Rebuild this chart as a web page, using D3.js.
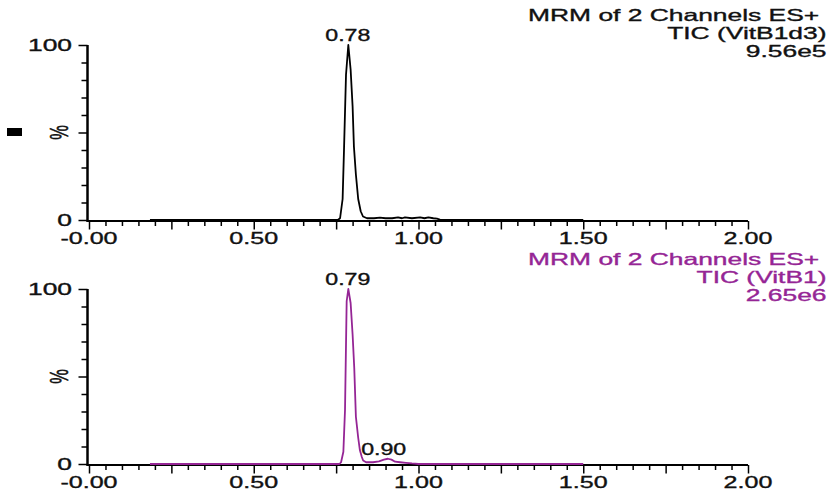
<!DOCTYPE html>
<html lang="en">
<head>
<meta charset="UTF-8">
<title>MRM TIC chromatograms</title>
<script src="https://d3js.org/d3.v7.min.js"></script>
<style>
  body { margin: 0; background: #fff; }
  svg text { font-family: "Liberation Sans", Arial, sans-serif; stroke-width: 0.35px; }
  .trace { fill: none; stroke-width: 1.8px; stroke-linejoin: round; }
  .axis path, .axis line { stroke: #000; }
</style>
</head>
<body>
<svg width="833" height="493"></svg>
<script>
// retention time (min) and relative intensity (%)
const timeTop = [0.185, 0.755, 0.762, 0.7697, 0.7739, 0.780, 0.787, 0.794, 0.800, 0.804, 0.810, 0.817, 0.8246, 0.8316, 0.8437,
  0.865, 0.883, 0.90, 0.92, 0.938, 0.95, 0.959, 0.98, 1.005, 1.018, 1.03, 1.045, 1.056, 1.065, 1.5];
const intTop = [0, 0, 1, 12, 40, 83, 100, 86, 65, 42, 26, 12, 5, 2, 1,
  1, 1.4, 1, 1, 1.5, 1, 1.5, 1, 1.5, 1, 1.5, 1, 0.8, 0.2, 0];

const timeBot = [0.185, 0.760, 0.765, 0.772, 0.777, 0.782, 0.787, 0.794, 0.800, 0.805, 0.810, 0.817, 0.822, 0.828, 0.832,
  0.841, 0.862, 0.880, 0.895, 0.907, 0.918, 0.929, 0.944, 0.962, 0.98, 1.0, 1.5];
const intBot = [0, 0, 1, 7, 31, 93, 100, 92, 74, 55, 27, 15, 8, 4, 2,
  1, 1, 1.5, 2.5, 3, 2.5, 1.3, 1, 0.7, 0.3, 0, 0];

const peaksTop = [{ t: 0.787, v: 100, label: "0.78" }];
const peaksBot = [{ t: 0.787, v: 100, label: "0.79" }, { t: 0.902, v: 3, label: "0.90" }];

const titleTop = ["MRM of 2 Channels ES+ ", "TIC (VitB1d3)", "9.56e5"];
const titleBot = ["MRM of 2 Channels ES+ ", "TIC (VitB1)", "2.65e6"];

const xTicks = d3.range(0, 2.0001, 0.05).map(v => +v.toFixed(2));
const xTickLabels = { 0: "-0.00", 0.5: "0.50", 1: "1.00", 1.5: "1.50", 2: "2.00" };
const yTicks = d3.range(0, 101, 10);
const yTickLabels = { 0: "0", 100: "100" };

const svg = d3.select("svg");
const purple = "#952595";
const SX = 1.55; // the picture's text is stretched sideways

const x = d3.scaleLinear([0, 2], [89, 748]);

function stretched(sel, px, py, sx) {
  return sel.attr("transform", `translate(${px},${py}) scale(${sx || SX},1)`);
}

function panel(times, ints, peaks, title, yTop, color, textColor) {
  const y = d3.scaleLinear([0, 100], [yTop + 175, yTop]);
  const g = svg.append("g");

  // y axis
  const ya = g.append("g").attr("class", "axis")
    .attr("transform", `translate(87.5,0)`)
    .call(d3.axisLeft(y).tickValues(yTicks).tickSize(6).tickFormat(""));
  ya.select(".domain").attr("stroke-width", 2.5).attr("d", `M0,${y(100)}V${y(0) + 2}`);
  ya.selectAll(".tick line").attr("stroke-width", 1.5)
    .attr("x2", d => d % 50 === 0 ? -9 : -6);
  yTicks.filter(d => yTickLabels[d] !== undefined).forEach(d => {
    stretched(g.append("text"), 72, y(d) + 5.5, 1.6)
      .attr("text-anchor", "end").attr("font-size", 16.5)
      .attr("fill", "#111").attr("stroke", "#111")
      .text(yTickLabels[d]);
  });
  g.append("text")
    .attr("transform", `translate(${68},${y(50)}) scale(1.6,1) rotate(-90)`)
    .attr("text-anchor", "middle").attr("font-size", 16.5)
    .attr("fill", "#111").attr("stroke", "#111")
    .text("%");

  // x axis
  const xa = g.append("g").attr("class", "axis")
    .attr("transform", `translate(0,${y(0) + 1})`)
    .call(d3.axisBottom(x).tickValues(xTicks).tickSize(5).tickFormat(""));
  xa.select(".domain").attr("stroke-width", 2.2).attr("d", `M${x(0) - 1.5},0H${x(2)}`);
  xa.selectAll(".tick line").attr("stroke-width", 1.5)
    .attr("y2", d => Math.abs(d / 0.25 - Math.round(d / 0.25)) < 1e-6 ? 8.5 : 5);
  Object.keys(xTickLabels).forEach(k => {
    stretched(g.append("text"), x(+k), y(0) + 24, 1.52)
      .attr("text-anchor", "middle").attr("font-size", 16.5)
      .attr("fill", "#111").attr("stroke", "#111")
      .text(xTickLabels[k]);
  });

  // trace
  const line = d3.line().x((d, i) => x(times[i])).y(d => y(d));
  g.append("path").attr("class", "trace")
    .attr("stroke", color).attr("d", line(ints));

  // peak labels
  peaks.forEach(p => {
    stretched(g.append("text"), x(p.t) - (p.v < 50 ? 2.5 : 0.5), y(p.v) - 4, 1.45)
      .attr("text-anchor", "middle").attr("font-size", 16)
      .attr("fill", "#111").attr("stroke", "#111")
      .text(p.label);
  });

  // header block, right aligned
  title.forEach((t, i) => {
    stretched(g.append("text"), 826.5, yTop - 24.5 + i * 18, 1.6)
      .attr("text-anchor", "end").attr("font-size", 16.5)
      .attr("fill", textColor).attr("stroke", textColor)
      .attr("xml:space", "preserve").style("white-space", "pre")
      .text(t);
  });
}

svg.append("rect").attr("width", 833).attr("height", 493).attr("fill", "#fff");
panel(timeTop, intTop, peaksTop, titleTop, 45, "#000", "#111");
panel(timeBot, intBot, peaksBot, titleBot, 289, purple, purple);

// small black marker at the left of the top panel
svg.append("rect").attr("x", 7).attr("y", 128).attr("width", 15).attr("height", 8).attr("fill", "#000");
</script>
</body>
</html>
